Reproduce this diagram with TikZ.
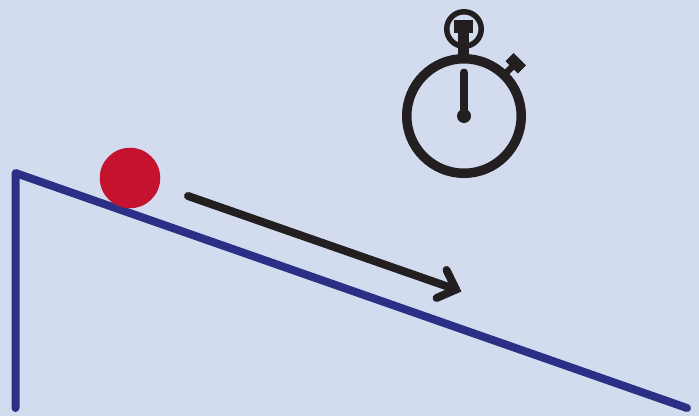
\documentclass[tikz,border=0pt]{standalone}
\definecolor{bgc}{HTML}{D2DCEE}
\definecolor{rampc}{HTML}{2B3086}
\definecolor{ballc}{HTML}{C4122F}
\definecolor{inkc}{HTML}{231F20}
\tikzset{
  ramp/.style={draw=rampc,line width=8pt,line cap=round,line join=round},
  ink/.style={draw=inkc,line cap=round,line join=round},
  inkfill/.style={fill=inkc,draw=none,inner sep=0pt,outer sep=0pt},
  ring/.style={circle,draw=inkc,fill=none,inner sep=0pt,outer sep=0pt}
}
\begin{document}
\begin{tikzpicture}[x=1pt,y=-1pt]
\fill[bgc] (0,0) rectangle (699,416);
\useasboundingbox (0,0) rectangle (699,416);
% ramp
\coordinate (rampBase) at (15.5,408);
\coordinate (rampTop) at (15.5,173);
\coordinate (rampEnd) at (687,408);
\draw[ramp] (rampBase) -- (rampTop) -- (rampEnd);
% ball
\node[circle,fill=ballc,minimum size=60.5pt,inner sep=0pt,outer sep=0pt] (ball) at (130,178) {};
% motion arrow
\coordinate (arrStart) at (188,196);
\coordinate (arrTip) at (456,289.5);
\coordinate (arrA) at (446.5,270);
\coordinate (arrB) at (436.5,298);
\draw[ink,line width=8pt] (arrStart) -- (arrTip);
\draw[ink,line width=8pt,line join=miter] (arrA) -- (arrTip) -- (arrB);
% stopwatch
\node[ring,line width=9.5pt,minimum size=114.5pt] (dial) at (464,116) {};
\node[ring,line width=5.5pt,minimum size=34.5pt] (loop) at (464,29) {};
\node[inkfill,minimum width=19pt,minimum height=13pt] (cap) at (463.5,26.5) {};
\node[inkfill,minimum width=11pt,minimum height=24pt] (stem) at (463.5,44.5) {};
\node[inkfill,minimum width=17.5pt,minimum height=11.5pt,rotate=-45] (button) at (515.8,63.2) {};
\coordinate (buttonFoot) at (503,76);
\draw[draw=inkc,line width=6.5pt] (buttonFoot) -- (button.center);
\node[inkfill,circle,minimum size=14pt] (pivot) at (464,116) {};
\coordinate (handTip) at (464,72.5);
\draw[ink,line width=8pt] (pivot.center) -- (handTip);
\end{tikzpicture}
\end{document}
